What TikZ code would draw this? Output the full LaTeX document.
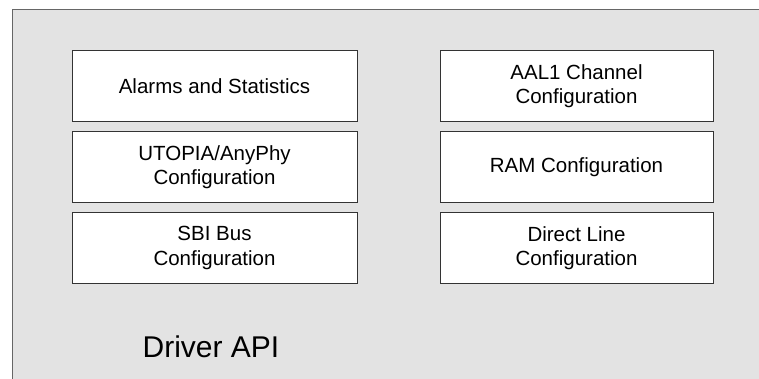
\documentclass[tikz,border=0pt]{standalone}
\usepackage{fontspec}
\setmainfont{Liberation Sans}
\begin{document}
\begin{tikzpicture}[x=1pt,y=-1pt,
  block/.style={draw=black!80, fill=white, line width=0.9pt, minimum width=285pt,
    minimum height=71pt, align=center, inner sep=0pt,
    font=\fontsize{20.5}{24.5}\selectfont},
  title/.style={font=\fontsize{30}{34}\selectfont, inner sep=0pt}]
  \useasboundingbox (0,0) rectangle (759,379);
  % background panel, open to the right and bottom
  \fill[black!11] (12,10) rectangle (759,379);
  \draw[black!60, line width=1pt] (12,379) -- (12,10) -- (759,10);
  % left column
  \node[block] (alarms) at (214.5,86) {Alarms and Statistics};
  \node[block] (utopia) at (214.5,167) {UTOPIA/AnyPhy\\Configuration};
  \node[block] (sbi)    at (214.5,248) {SBI Bus\\Configuration};
  % right column
  \node[block, minimum width=273pt] (aal1)   at (576.5,86)  {AAL1 Channel\\Configuration};
  \node[block, minimum width=273pt] (ram)    at (576.5,167) {RAM Configuration};
  \node[block, minimum width=273pt] (direct) at (576.5,248) {Direct Line\\Configuration};
  \node[title] (api) at (211,347) {Driver API};
\end{tikzpicture}
\end{document}
